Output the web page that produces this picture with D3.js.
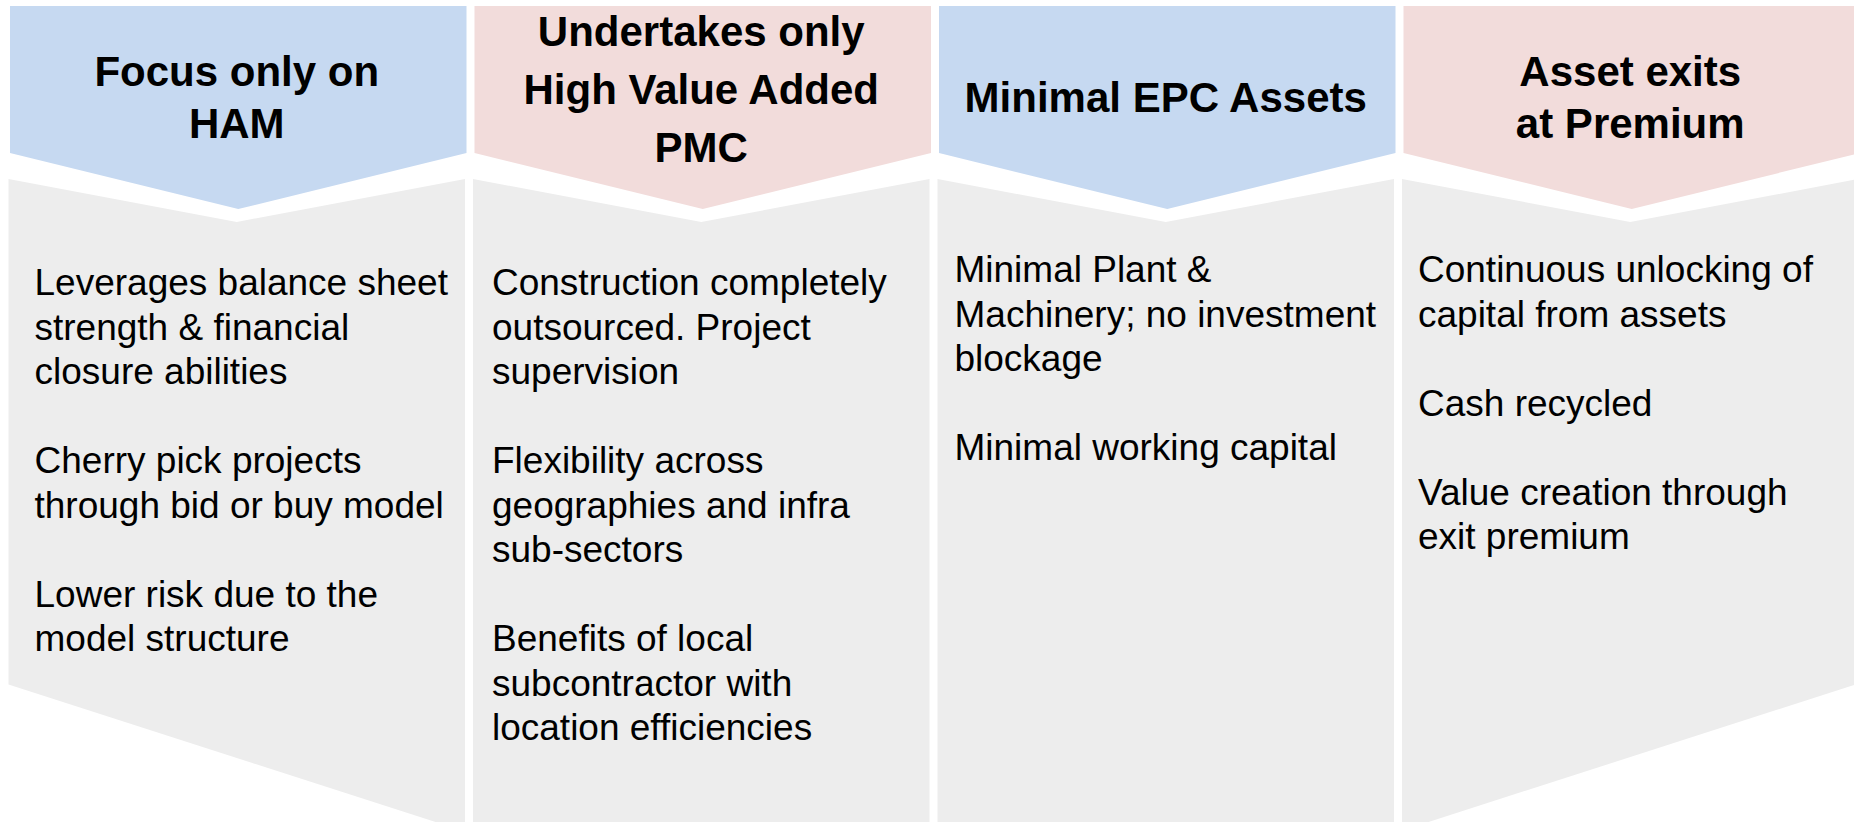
<!DOCTYPE html>
<html>
<head>
<meta charset="utf-8">
<script src="https://cdn.jsdelivr.net/npm/d3@7"></script>
<style>
  body { margin: 0; background: #fff; overflow: hidden; }
  text { font-family: "Liberation Sans", Arial, sans-serif; fill: #000; }
</style>
</head>
<body>
<div id="here"></div>
<script>
var w = 1854, h = 822;

// column headings (one entry per line)
var headers = [
  ["Focus only on", "HAM"],
  ["Undertakes only", "High Value Added", "PMC"],
  ["Minimal EPC Assets"],
  ["Asset exits", "at Premium"]
];

var headerColors = ["#c6d9f1", "#f2dcdb", "#c6d9f1", "#f2dcdb"];

// body text, "" = empty line between points
var points = [
  ["Leverages balance sheet", "strength & financial", "closure abilities", "",
   "Cherry pick projects", "through bid or buy model", "",
   "Lower risk due to the", "model structure"],
  ["Construction completely", "outsourced. Project", "supervision", "",
   "Flexibility across", "geographies and infra", "sub-sectors", "",
   "Benefits of local", "subcontractor with", "location efficiencies"],
  ["Minimal Plant &", "Machinery; no investment", "blockage", "",
   "Minimal working capital"],
  ["Continuous unlocking of", "capital from assets", "",
   "Cash recycled", "",
   "Value creation through", "exit premium"]
];

// layout
var headTop = 6, headSide = 153, headTip = 209;
var bodySide = 179, bodyTip = 222;
var bodyTop = [295, 295, 282, 282];
var textPad = [26, 19, 17, 16];
var lineH = 44.5;

var x = d3.scaleBand()
  .domain(d3.range(headers.length))
  .range([8.5, 1858.5])
  .paddingInner(0.0172)
  .paddingOuter(0);

// diagonal cut of the grey area at the bottom corners
var slope = 0.322;
function bottomAt(px) {
  var yl = 684 + slope * (px - 7);
  var yr = 685 + slope * (1854 - px);
  return Math.min(yl, yr, h + 10);
}

var svg = d3.select('#here').append("svg")
  .attr("width", w)
  .attr("height", h);

var line = d3.line();

var col = svg.selectAll(".col")
  .data(headers)
  .enter().append("g")
  .attr("class", "col");

// grey panels
col.append("path")
  .attr("d", function(d, i) {
    var x0 = x(i), x1 = x(i) + x.bandwidth(), cx = (x0 + x1) / 2;
    return line([[x0, bodySide], [cx, bodyTip], [x1, bodySide],
                 [x1, bottomAt(x1)], [x0, bottomAt(x0)]]) + "Z";
  })
  .attr("fill", "#ededed");

// chevron headers
col.append("path")
  .attr("d", function(d, i) {
    var x0 = x(i) + 1.5, x1 = x(i) + x.bandwidth() + 1.5, cx = (x0 + x1) / 2;
    return line([[x0, headTop], [x1, headTop], [x1, headSide],
                 [cx, headTip], [x0, headSide]]) + "Z";
  })
  .attr("fill", function(d, i) { return headerColors[i]; });

// header labels
col.append("text")
  .attr("text-anchor", "middle")
  .style("font-size", "42px")
  .style("font-weight", "bold")
  .each(function(d, i) {
    var n = d.length;
    var step = n > 2 ? 58 : 52;
    var first = n > 2 ? 46 : (n === 2 ? 86 : 112);
    var cx = x(i) + x.bandwidth() / 2;
    d3.select(this).selectAll("tspan")
      .data(d)
      .enter().append("tspan")
      .attr("x", cx)
      .attr("y", function(t, j) { return first + j * step; })
      .text(function(t) { return t; });
  });

// body text
col.append("text")
  .style("font-size", "37px")
  .each(function(d, i) {
    d3.select(this).selectAll("tspan")
      .data(points[i])
      .enter().append("tspan")
      .attr("x", x(i) + textPad[i])
      .attr("y", function(t, j) { return bodyTop[i] + j * lineH; })
      .text(function(t) { return t; });
  });
</script>
</body>
</html>
